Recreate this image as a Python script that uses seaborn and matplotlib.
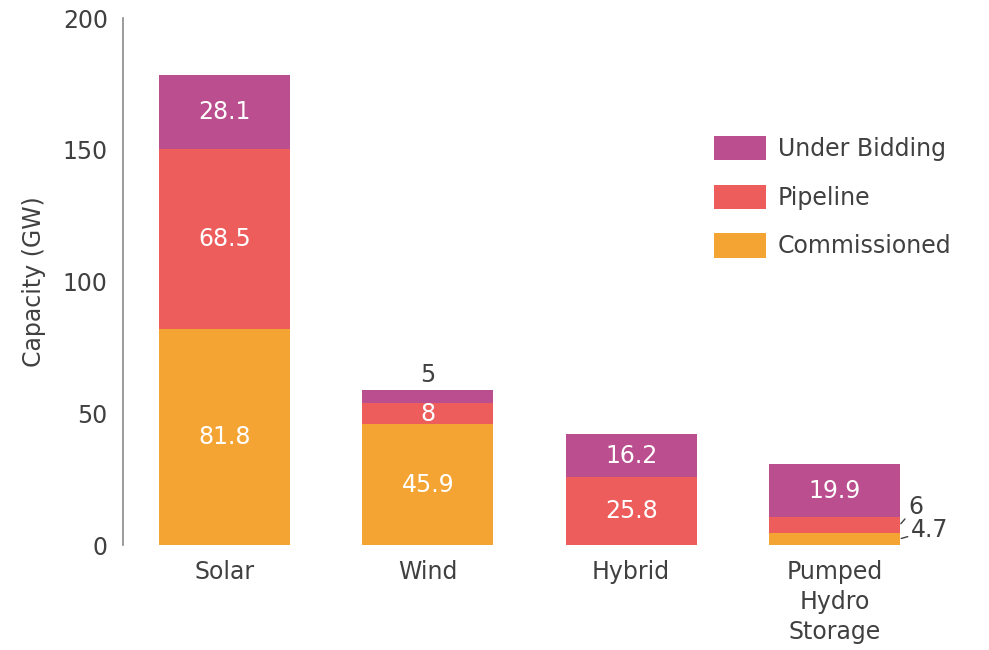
import numpy as np
import pandas as pd
import seaborn as sns
import matplotlib.pyplot as plt

# Data (GW)
categories = ["Solar", "Wind", "Hybrid", "Pumped\nHydro\nStorage"]
commissioned = [81.8, 45.9, 0, 4.7]
pipeline = [68.5, 8, 25.8, 6]
under_bidding = [28.1, 5, 16.2, 19.9]

series_names = ["Commissioned", "Pipeline", "Under Bidding"]
series_colors = ["#F4A432", "#EC5D5B", "#BB4E8E"]

TEXT = "#404040"
FS = 17

sns.set_theme(style="white")
plt.rcParams["font.family"] = ["DejaVu Sans"]

fig = plt.figure(figsize=(9.89, 6.5), dpi=100)
ax = fig.add_axes([0.1244, 0.1615, 0.822, 0.8108])

df = pd.DataFrame({"category": categories,
                   "Commissioned": commissioned,
                   "Pipeline": pipeline,
                   "Under Bidding": under_bidding})

bottom = np.zeros(len(categories))
bar_width = 0.645
for name, color in zip(series_names, series_colors):
    sns.barplot(data=df, x="category", y=name, order=categories,
                color=color, width=bar_width, errorbar=None,
                bottom=bottom.copy(), label=name, ax=ax,
                saturation=1, linewidth=0)
    bottom += df[name].to_numpy()

# labels inside the segments (small ones are handled below)
outside = {("Wind", "Under Bidding"), ("Pumped\nHydro\nStorage", "Pipeline"),
           ("Pumped\nHydro\nStorage", "Commissioned")}
for container, name in zip(ax.containers, series_names):
    labels = []
    for cat, v in zip(categories, df[name]):
        if v == 0 or (cat, name) in outside:
            labels.append("")
        else:
            labels.append(f"{v:g}")
    ax.bar_label(container, labels=labels, label_type="center",
                 color="white", fontsize=FS)

# Wind: value above the bar
wind_top = commissioned[1] + pipeline[1] + under_bidding[1]
ax.annotate(f"{under_bidding[1]:g}", xy=(1, wind_top), xytext=(0, 2),
            textcoords="offset points", ha="center", va="bottom",
            color=TEXT, fontsize=FS)

# Pumped hydro: small values with leader lines
right_edge = 3 + bar_width / 2
mid_pipe = commissioned[3] + pipeline[3] / 2
mid_comm = commissioned[3] / 2
ax.annotate(f"{pipeline[3]:g}", xy=(right_edge, mid_pipe), xytext=(6, 13),
            textcoords="offset points", ha="left", va="center",
            color=TEXT, fontsize=FS,
            arrowprops=dict(arrowstyle="-", color=TEXT, lw=1,
                            shrinkA=0, shrinkB=1))
ax.annotate(f"{commissioned[3]:g}", xy=(right_edge, mid_comm), xytext=(8, 6),
            textcoords="offset points", ha="left", va="center",
            color=TEXT, fontsize=FS,
            arrowprops=dict(arrowstyle="-", color=TEXT, lw=1,
                            shrinkA=0, shrinkB=1))

ax.set_xlim(-0.5, 3.5)
ax.set_ylim(0, 200)
ax.set_yticks([0, 50, 100, 150, 200])
ax.set_xlabel("")
ax.set_ylabel("Capacity (GW)", fontsize=FS, color=TEXT, labelpad=12)
ax.tick_params(axis="both", length=0, labelsize=FS, labelcolor=TEXT)
ax.tick_params(axis="y", pad=11)
ax.tick_params(axis="x", pad=11)
for lbl in ax.get_xticklabels():
    lbl.set_linespacing(1.3)

sns.despine(ax=ax, bottom=True)
ax.spines["left"].set_color("#8a8a8a")
ax.spines["left"].set_linewidth(1.2)

handles, labels = ax.get_legend_handles_labels()
ax.legend(handles[::-1], labels[::-1], loc="upper left",
          bbox_to_anchor=(714 / 989, 1 - 136 / 650), bbox_transform=fig.transFigure,
          frameon=False, fontsize=FS, labelcolor=TEXT,
          handlelength=2.2, handleheight=1.2, handletextpad=0.5,
          labelspacing=1.0, borderpad=0, borderaxespad=0)

fig.savefig("out.png", dpi=100)
